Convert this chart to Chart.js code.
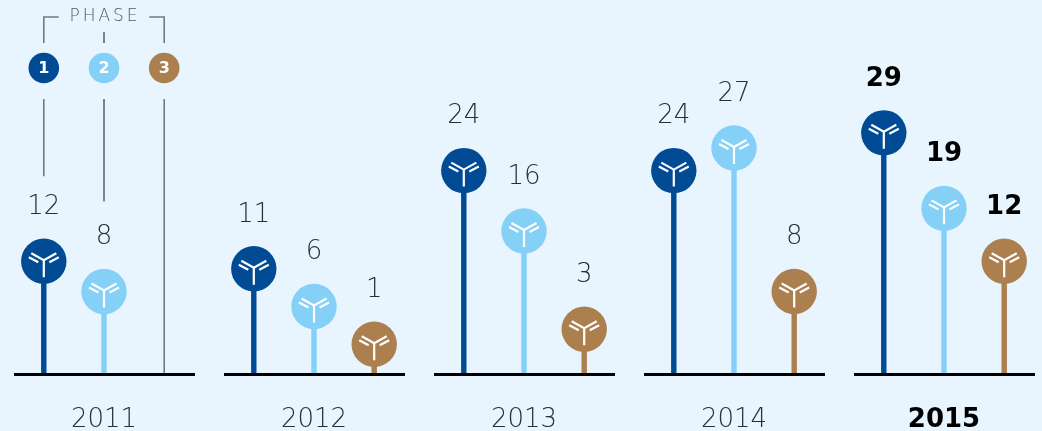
<!DOCTYPE html>
<html>
<head>
<meta charset="utf-8">
<title>Phase pipeline 2011-2015</title>
<script src="https://cdn.jsdelivr.net/npm/chart.js@4"></script>
<style>
	html, body { margin: 0; padding: 0; background: #e8f5fe; overflow: hidden; }
	#wrap { position: absolute; left: -1px; top: 0; width: 1050px; height: 431px; }
</style>
</head>
<body>
<div id="wrap"><canvas id="phaseChart"></canvas></div>
<script>
var years = ['2011', '2012', '2013', '2014', '2015'];
var phase1 = [12, 11, 24, 24, 29];
var phase2 = [8, 6, 16, 27, 19];
var phase3 = [null, 1, 3, 8, 12];
var phaseNames = ['1', '2', '3'];
var phaseColors = ['#004b93', '#84d0f7', '#ab7f4e'];
var lastYear = years.length - 1;

var thinFont = '"DejaVu Sans ExtraLight", "DejaVu Sans"';
var boldFont = '"DejaVu Sans"';

// white fork drawn inside every head
function drawFork(ctx, x, y) {
	ctx.strokeStyle = '#ffffff';
	ctx.lineWidth = 2.2;
	ctx.beginPath();
	ctx.moveTo(x, y + 16);
	ctx.lineTo(x, y - 1);
	ctx.moveTo(x - 12.5, y - 8);
	ctx.lineTo(x, y - 1);
	ctx.lineTo(x + 12.5, y - 8);
	ctx.moveTo(x - 15, y - 4);
	ctx.lineTo(x - 5.5, y + 1);
	ctx.moveTo(x + 15, y - 4);
	ctx.lineTo(x + 5.5, y + 1);
	ctx.stroke();
}

function drawHead(ctx, x, y, r, color) {
	ctx.fillStyle = color;
	ctx.beginPath();
	ctx.arc(x, y, r, 0, Math.PI * 2);
	ctx.fill();
}

var lollipops = {
	id: 'lollipops',
	afterDatasetsDraw: function (chart) {
		var ctx = chart.ctx;
		var xScale = chart.scales.x;
		var bottom = chart.scales.y.bottom;
		ctx.save();

		// phase key above the first group
		var first = [0, 1, 2].map(function (i) { return chart.getDatasetMeta(i).data[0].x; });
		ctx.lineCap = 'butt';
		ctx.strokeStyle = '#6f7b84';
		ctx.lineWidth = 1.6;
		ctx.beginPath();
		ctx.moveTo(first[0], 43);
		ctx.lineTo(first[0], 17);
		ctx.lineTo(first[0] + 15, 17);
		ctx.moveTo(first[2], 43);
		ctx.lineTo(first[2], 17);
		ctx.lineTo(first[2] - 15, 17);
		ctx.moveTo(first[0], 99);
		ctx.lineTo(first[0], chart.getDatasetMeta(0).data[0].y - 85);
		ctx.moveTo(first[2], 99);
		ctx.lineTo(first[2], bottom);
		ctx.stroke();
		ctx.strokeStyle = '#111111';
		ctx.lineWidth = 1;
		ctx.beginPath();
		ctx.moveTo(first[1], 32);
		ctx.lineTo(first[1], 43);
		ctx.moveTo(first[1], 99);
		ctx.lineTo(first[1], chart.getDatasetMeta(1).data[0].y - 90);
		ctx.stroke();

		ctx.textAlign = 'center';
		ctx.textBaseline = 'middle';
		ctx.fillStyle = '#4f5a63';
		ctx.font = '200 17px ' + thinFont;
		ctx.letterSpacing = '3px';
		ctx.fillText('PHASE', first[1] + 1, 17);
		ctx.letterSpacing = '0px';
		first.forEach(function (x, i) {
			drawHead(ctx, x, 68, 15.3, phaseColors[i]);
			ctx.fillStyle = '#ffffff';
			ctx.font = '700 16px ' + boldFont;
			ctx.fillText(phaseNames[i], x, 69);
		});

		// heads and value labels
		chart.data.datasets.forEach(function (ds, i) {
			chart.getDatasetMeta(i).data.forEach(function (bar, j) {
				var value = ds.data[j];
				if (value === null) {
					return;
				}
				drawHead(ctx, bar.x, bar.y, 22.7, phaseColors[i]);
				drawFork(ctx, bar.x, bar.y);
				ctx.fillStyle = j === lastYear ? '#000000' : '#2a2f34';
				ctx.font = j === lastYear ? '700 26px ' + boldFont : '200 26px ' + thinFont;
				ctx.fillText(value, bar.x, bar.y - 54);
			});
		});

		// baseline under each year
		ctx.strokeStyle = '#000000';
		ctx.lineWidth = 3;
		ctx.beginPath();
		years.forEach(function (y, j) {
			var cx = xScale.getPixelForValue(j);
			ctx.moveTo(cx - 90, bottom);
			ctx.lineTo(cx + 91, bottom);
		});
		ctx.stroke();
		ctx.restore();
	}
};

function phaseDataset(values, color) {
	return {
		data: values,
		backgroundColor: color,
		base: -3,
		categoryPercentage: 0.86,
		barPercentage: 0.09,
	};
}

var ctx = document.getElementById('phaseChart');
var myChart = new Chart(ctx, {
	type: 'bar',
	data: {
		labels: years,
		datasets: [
			phaseDataset(phase1, phaseColors[0]),
			phaseDataset(phase2, phaseColors[1]),
			phaseDataset(phase3, phaseColors[2]),
		]
	},
	options: {
		responsive: true,
		maintainAspectRatio: false,
		animation: false,
		layout: {
			padding: { top: 12, left: 0, right: 0, bottom: 0 }
		},
		scales: {
			x: {
				grid: { display: false },
				border: { display: false },
				afterFit: function (scale) {
					scale.height = 56.5;
				},
				ticks: {
					padding: 22,
					maxRotation: 0,
					color: function (c) {
						return c.index === lastYear ? '#000000' : '#2a2f34';
					},
					font: function (c) {
						return c.index === lastYear
							? { family: boldFont, size: 26, weight: '700' }
							: { family: thinFont, size: 26, weight: '200' };
					}
				}
			},
			y: {
				display: false,
				min: -3,
				max: 45,
			},
		},
		plugins: {
			legend: { display: false },
			tooltip: { enabled: false }
		}
	},
	plugins: [lollipops]
});
</script>
</body>
</html>
